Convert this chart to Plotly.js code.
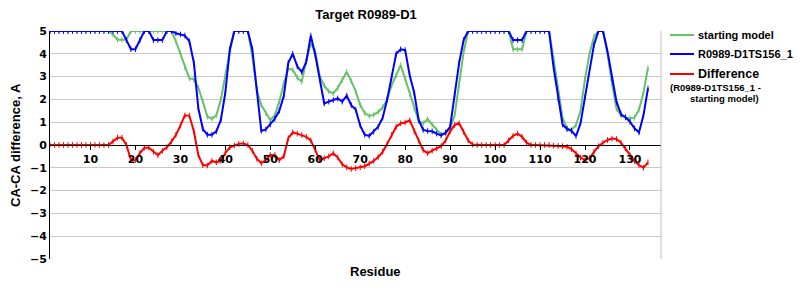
<!DOCTYPE html>
<html>
<head>
<meta charset="utf-8">
<script src="https://cdn.plot.ly/plotly-3.0.1.min.js"></script>
<style>html,body{margin:0;padding:0;background:#fff;}#chart{width:800px;height:300px;}</style>
</head>
<body>
<div id="chart"></div>
<script>
// Residue numbers 1..134
const residues = [];
for (let i = 1; i <= 134; i++) residues.push(i);

const startingModel = [
  5,5,5,5,5,5,5,5,5,5, 5,5,5,5,4.85,4.62,4.62,4.62,5,5,
  5,5,5,5,5,5,5,5,4.55,4.0, 3.4,2.92,2.88,2.5,1.9,1.25,1.15,1.3,2.0,3.1,
  4.1,5,5,5,5,3.9,2.4,1.75,1.4,1.09, 1.3,1.9,2.7,3.35,3.3,2.95,2.77,3.7,4.45,4.1,
  3.0,2.6,2.35,2.26,2.5,2.85,3.21,2.8,2.35,1.75, 1.4,1.27,1.32,1.45,1.65,2.0,2.63,3.06,3.5,2.9,
  2.25,1.6,1.05,0.95,1.14,0.9,0.65,0.45,0.5,0.75, 1.3,2.6,4.08,5,5,5,5,5,5,5,
  5,5,5,4.2,4.2,4.2,5,5,5,5, 5,5,3.8,2.5,1.2,0.73,0.66,0.88,1.5,2.9,
  4.0,4.75,5,5,4.0,2.7,1.6,1.3,1.2,1.17, 1.2,1.55,2.3,3.38
];

const modelTS156 = [
  5,5,5,5,5,5,5,5,5,5, 5,5,5,5,5,5,5,4.6,4.2,4.2,
  4.6,5,5,4.6,4.6,4.6,5,5,4.9,4.85, 4.8,4.55,3.6,1.6,0.7,0.45,0.45,0.6,1.1,2.3,
  4.2,5,5,5,5,4.2,2.4,0.62,0.68,0.9, 1.15,1.5,2.15,3.6,4.0,3.45,3.2,3.65,4.8,3.95,
  2.9,1.82,1.9,1.97,2.04,1.9,2.16,1.75,1.55,0.85, 0.45,0.4,0.58,0.8,1.2,2.0,3.0,4.0,4.2,4.16,
  3.06,2.3,1.1,0.66,0.61,0.6,0.5,0.42,0.55,0.8, 2.2,3.6,4.6,5,5,5,5,5,5,5,
  5,5,5,4.6,4.6,4.6,5,5,5,5, 5,5,3.4,2.04,0.9,0.7,0.62,0.39,0.95,2.1,
  3.3,4.4,5,5,4.1,2.9,1.9,1.35,1.22,1.02, 0.73,0.55,1.3,2.48
];

const difference = [
  0,0,0,0,0,0,0,0,0,0, 0,0,0,0,0.15,0.32,0.32,0.0,-0.66,-0.66,
  -0.35,-0.12,-0.12,-0.3,-0.45,-0.25,-0.1,0.15,0.44,0.85, 1.3,1.28,0.6,-0.45,-0.88,-0.9,-0.7,-0.76,-0.7,-0.35,
  -0.1,-0.02,0.05,0.07,0.0,-0.25,-0.6,-0.8,-0.66,-0.44, -0.44,-0.66,-0.5,0.3,0.55,0.5,0.44,0.36,0.2,-0.2,
  -0.66,-0.58,-0.5,-0.36,-0.55,-0.85,-0.98,-1.05,-1.02,-0.98, -0.93,-0.82,-0.7,-0.53,-0.3,0.05,0.45,0.8,0.95,0.99,
  1.08,0.6,0.2,-0.22,-0.36,-0.25,-0.15,-0.05,0.2,0.6, 0.88,0.95,0.58,0.2,0.02,0,0,0,0,0,
  0,0,0.2,0.4,0.5,0.36,0.1,0,0,0, 0,0,-0.03,-0.04,-0.05,-0.08,-0.18,-0.38,-0.55,-0.66,
  -0.58,-0.3,-0.05,0.1,0.22,0.28,0.26,0.1,-0.15,-0.45, -0.7,-0.88,-1.0,-0.76
];

const seriesNames = ['starting model', 'R0989-D1TS156_1', 'Difference'];
const seriesColors = ['#66c266', '#0000ff', '#ff0000'];
const yTickVals = [-5,-4,-3,-2,-1,0,1,2,3,4,5];

function trace(y, name, color) {
  return {
    x: residues, y: y, name: name, type: 'scatter', mode: 'lines+markers',
    line: {color: color, width: 2},
    marker: {symbol: 'line-ns', size: 4, line: {color: color, width: 1}, color: color},
    showlegend: false, hoverinfo: 'x+y'
  };
}

const data = [
  trace(startingModel, seriesNames[0], seriesColors[0]),
  trace(modelTS156, seriesNames[1], seriesColors[1]),
  trace(difference, seriesNames[2], seriesColors[2])
];

const L = 50, R = 661, T = 31, B = 259;
const W = R - L, H = B - T;
function px(x) { return (x - L) / W; }
function py(y) { return (B - y) / H; }

const boldFont = 'Liberation Sans, Arial, sans-serif';

const legendY = [35, 54, 74];
const legendSizes = [11, 11, 12.5];
const shapes = [
  {type: 'line', xref: 'paper', yref: 'paper', x0: 1, x1: 1, y0: 0, y1: 1,
   line: {color: '#c0c0c0', width: 1}}
];
const annotations = [];
for (let i = 0; i < 3; i++) {
  shapes.push({type: 'line', xref: 'paper', yref: 'paper', x0: px(670), x1: px(694),
    y0: py(legendY[i]), y1: py(legendY[i]), line: {color: seriesColors[i], width: 2}});
  annotations.push({xref: 'paper', yref: 'paper', x: px(696), y: py(legendY[i]),
    xanchor: 'left', yanchor: 'middle', showarrow: false,
    text: '<b>' + seriesNames[i] + '</b>',
    font: {family: boldFont, size: legendSizes[i], color: '#000'}});
}
annotations.push({xref: 'paper', yref: 'paper', x: px(668), y: py(87),
  xanchor: 'left', yanchor: 'middle', showarrow: false,
  text: '<b>(R0989-D1TS156_1 -</b>', font: {family: boldFont, size: 9.5, color: '#000'}});
annotations.push({xref: 'paper', yref: 'paper', x: px(688), y: py(98),
  xanchor: 'left', yanchor: 'middle', showarrow: false,
  text: '<b>starting model)</b>', font: {family: boldFont, size: 9.5, color: '#000'}});
annotations.push({xref: 'paper', yref: 'paper', x: px(375), y: py(271),
  xanchor: 'center', yanchor: 'middle', showarrow: false,
  text: '<b>Residue</b>', font: {family: boldFont, size: 13, color: '#000'}});
annotations.push({xref: 'paper', yref: 'paper', x: px(15), y: 0.5,
  xanchor: 'center', yanchor: 'middle', showarrow: false, textangle: -90,
  text: '<b>CA-CA difference, A</b>', font: {family: boldFont, size: 13, color: '#000'}});

const layout = {
  width: 800, height: 300,
  margin: {l: L, r: 800 - R, t: T, b: 300 - B, pad: 0},
  paper_bgcolor: '#fff', plot_bgcolor: '#fff',
  showlegend: false,
  title: {text: '<b>Target R0989-D1</b>', xref: 'container', x: 366/800, xanchor: 'center',
          yref: 'container', y: 1 - 14/300, yanchor: 'middle',
          font: {family: 'Liberation Sans Narrow, Arial Narrow, Liberation Sans, sans-serif', size: 13, color: '#000'}},
  xaxis: {
    range: [1, 136.9], anchor: 'free', position: 0.5,
    showline: true, linecolor: '#000', linewidth: 1,
    ticks: 'outside', ticklen: 4, tickcolor: '#000', tickwidth: 1,
    tick0: 0, dtick: 10, showgrid: false, zeroline: false,
    tickfont: {family: 'DejaVu Sans, Verdana, sans-serif', size: 11, color: '#000', weight: 'bold'}
  },
  yaxis: {
    range: [-5, 5], tickvals: yTickVals,
    showline: true, linecolor: '#000', linewidth: 1,
    ticks: '', showgrid: true, gridcolor: '#c8c8c8', gridwidth: 1, zeroline: false,
    tickfont: {family: 'DejaVu Sans, Verdana, sans-serif', size: 11, color: '#000', weight: 'bold'}
  },
  shapes: shapes,
  annotations: annotations
};

Plotly.newPlot('chart', data, layout, {displayModeBar: false, staticPlot: true});
</script>
</body>
</html>
